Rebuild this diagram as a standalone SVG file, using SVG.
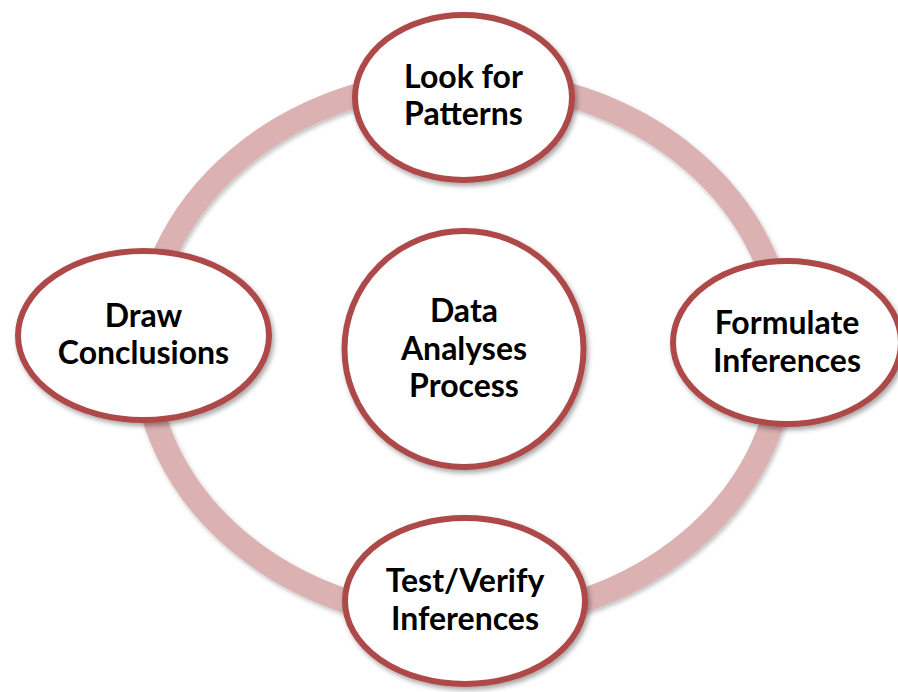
<svg xmlns="http://www.w3.org/2000/svg" width="898" height="692" viewBox="0 0 898 692">
  <defs>
    <filter id="shadow" x="-20%" y="-20%" width="140%" height="140%">
      <feDropShadow dx="2" dy="3" stdDeviation="2.5" flood-color="#000000" flood-opacity="0.35"/>
    </filter>
    <filter id="ringShadow" x="-10%" y="-10%" width="120%" height="120%">
      <feDropShadow dx="1.5" dy="2.5" stdDeviation="2" flood-color="#000000" flood-opacity="0.25"/>
    </filter>
  </defs>
  <style>
    .ring { fill: none; stroke: #DBB1B1; stroke-width: 24; }
    .node { fill: #FFFFFF; stroke: #AD4A48; stroke-width: 6; }
    .label { font-family: Lato, "Open Sans", "Liberation Sans", sans-serif; font-weight: bold; font-size: 32px; fill: #000000; text-anchor: middle; }
  </style>
  <rect x="0" y="0" width="898" height="692" fill="#FFFFFF"/>
  <g id="connectors">
    <ellipse class="ring" cx="464" cy="350" rx="320" ry="270" filter="url(#ringShadow)"/>
  </g>
  <g id="node-center">
    <ellipse class="node" cx="464" cy="349" rx="119.5" ry="118" filter="url(#shadow)"/>
    <text class="label" x="464" y="322">Data</text>
    <text class="label" x="464" y="359.5">Analyses</text>
    <text class="label" x="464" y="397">Process</text>
  </g>
  <g id="node-top">
    <ellipse class="node" cx="463.5" cy="97.5" rx="108.5" ry="82.5" filter="url(#shadow)"/>
    <text class="label" x="463.5" y="88">Look for</text>
    <text class="label" x="463.5" y="125">Patterns</text>
  </g>
  <g id="node-left">
    <ellipse class="node" cx="143.5" cy="335.5" rx="125.5" ry="84.5" filter="url(#shadow)"/>
    <text class="label" x="143.5" y="327">Draw</text>
    <text class="label" x="143.5" y="364">Conclusions</text>
  </g>
  <g id="node-right">
    <ellipse class="node" cx="787" cy="342.5" rx="114" ry="81.5" filter="url(#shadow)"/>
    <text class="label" x="787" y="334">Formulate</text>
    <text class="label" x="787" y="372">Inferences</text>
  </g>
  <g id="node-bottom">
    <ellipse class="node" cx="465" cy="601" rx="120" ry="83" filter="url(#shadow)"/>
    <text class="label" x="465" y="592">Test/Verify</text>
    <text class="label" x="465" y="630">Inferences</text>
  </g>
</svg>
